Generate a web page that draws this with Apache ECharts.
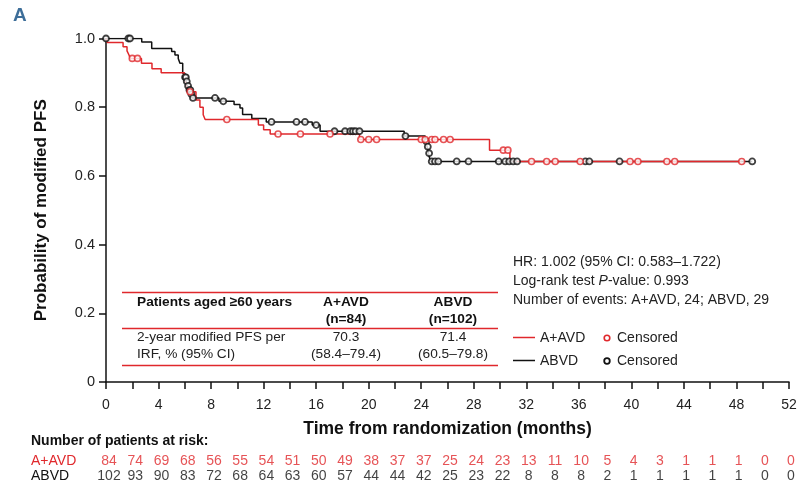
<!DOCTYPE html>
<html>
<head>
<meta charset="utf-8">
<script src="https://cdn.jsdelivr.net/npm/echarts@6/dist/echarts.min.js"></script>
<style>html,body{margin:0;padding:0;background:#fff;}#c{width:800px;height:485px;}</style>
</head>
<body>
<div id="c"></div>
<script>
// ---- Data ----
// A+AVD (red) KM steps: time (months) and survival after the event
const aavdTimes = [0, 0.1, 1.3, 1.6, 1.75, 1.85, 2.7, 3.5, 4.2, 5.97, 6.1, 6.2, 6.85, 7.15, 7.4, 7.55, 11.6, 12.0, 12.5, 19.3, 29.2, 30.75];
const aavdSurv  = [1.0, 0.988, 0.976, 0.964, 0.952, 0.942, 0.928, 0.912, 0.900, 0.884, 0.864, 0.845, 0.821, 0.800, 0.778, 0.764, 0.748, 0.734, 0.722, 0.706, 0.675, 0.642];
const aavdCensor = [2.0, 2.4, 6.4, 9.2, 13.1, 14.8, 17.06, 19.4, 20.0, 20.6, 24.0, 24.3, 24.8, 25.05, 25.7, 26.2, 30.25, 30.6, 32.4, 33.55, 34.2, 36.1, 39.9, 40.5, 42.7, 43.3, 48.4];

// ABVD (black) KM steps
const abvdTimes = [0, 2.72, 3.48, 5.0, 5.25, 5.5, 5.63, 5.84, 6.0, 6.1, 6.2, 6.3, 6.45, 6.55, 8.6, 9.75, 10.2, 10.4, 11.1, 12.2, 15.7, 16.3, 22.7, 24.3, 24.45, 24.55, 24.7];
const abvdSurv  = [1.0, 0.990, 0.971, 0.962, 0.952, 0.942, 0.928, 0.899, 0.887, 0.875, 0.862, 0.850, 0.838, 0.827, 0.817, 0.808, 0.798, 0.779, 0.767, 0.757, 0.748, 0.730, 0.716, 0.700, 0.685, 0.666, 0.642];
const abvdCensor = [0, 1.7, 1.83, 6.02, 6.08, 6.15, 6.25, 6.35, 6.42, 6.5, 6.62, 8.3, 8.93, 12.6, 14.5, 15.15, 16.0, 17.4, 18.2, 18.6, 18.8, 19.0, 19.3, 22.8, 24.4, 24.5, 24.6, 24.8, 25.05, 25.3, 26.7, 27.6, 29.9, 30.4, 30.7, 31.0, 31.3, 36.5, 36.8, 39.1, 49.2];

// Number at risk (every 2 months, 0..52)
const riskTimes = [0,2,4,6,8,10,12,14,16,18,20,22,24,26,28,30,32,34,36,38,40,42,44,46,48,50,52];
const riskAAVD = [84,74,69,68,56,55,54,51,50,49,38,37,37,25,24,23,13,11,10,5,4,3,1,1,1,0,0];
const riskABVD = [102,93,90,83,72,68,64,63,60,57,44,44,42,25,23,22,8,8,8,2,1,1,1,1,1,0,0];

// Inset table text
const tableHeader = ['Patients aged \u226560 years', 'A+AVD', '(n=84)', 'ABVD', '(n=102)'];
const tableRow1 = ['2-year modified PFS per', 'IRF, % (95% CI)'];
const tableAAVD = ['70.3', '(58.4\u201379.4)'];
const tableABVD = ['71.4', '(60.5\u201379.8)'];

// ---- Helpers ----
function stepLine(times, surv, censor) {
  const pts = times.map((t, i) => [t, surv[i]]);
  const last = Math.max(times[times.length - 1], Math.max.apply(null, censor));
  pts.push([last, surv[surv.length - 1]]);
  return pts;
}
function survAt(times, surv, t) {
  let v = surv[0];
  for (let i = 0; i < times.length; i++) { if (times[i] <= t) v = surv[i]; }
  return v;
}
function censorPts(times, surv, censor) {
  return censor.map(t => [t, survAt(times, surv, t)]);
}

const RED = '#e0282c';
const BLK = '#111111';
const fontS = '"Liberation Sans", Arial, Helvetica, sans-serif';

const chart = echarts.init(document.getElementById('c'), null, {renderer: 'canvas'});

const option = {
  backgroundColor: '#fff',
  animation: false,
  grid: [
    {left: 106, right: 11, top: 38.5, bottom: 103, containLabel: false},
    {left: 109, right: 9, top: 454, height: 30}
  ],
  xAxis: [
    {
      type: 'value', gridIndex: 0, min: 0, max: 52, interval: 2,
      axisLine: {lineStyle: {color: BLK, width: 1.5}},
      axisTick: {show: true, length: 7, lineStyle: {color: BLK, width: 1.5}},
      axisLabel: {formatter: v => (v % 4 === 0 ? String(v) : ''), color: '#222', fontSize: 14, fontFamily: fontS, margin: 16},
      splitLine: {show: false},
      name: 'Time from randomization (months)', nameLocation: 'middle', nameGap: 38,
      nameTextStyle: {fontSize: 17.5, fontWeight: 'bold', color: '#111', fontFamily: fontS}
    },
    {type: 'value', gridIndex: 1, min: 0, max: 52, show: false}
  ],
  yAxis: [
    {
      type: 'value', gridIndex: 0, min: 0, max: 1, interval: 0.2,
      axisLine: {show: true, lineStyle: {color: BLK, width: 1.5}},
      axisTick: {show: true, length: 7, lineStyle: {color: BLK, width: 1.5}},
      axisLabel: {formatter: v => (v === 0 ? '0' : v.toFixed(1)), color: '#222', fontSize: 14.5, fontFamily: fontS, margin: 11},
      splitLine: {show: false},
      name: 'Probability of modified PFS', nameLocation: 'middle', nameGap: 56,
      nameTextStyle: {fontSize: 17, fontWeight: 'bold', color: '#111', fontFamily: fontS}
    },
    {type: 'category', gridIndex: 1, data: ['A+AVD', 'ABVD'], inverse: true, show: false}
  ],
  series: [
    {
      name: 'A+AVD', type: 'line', step: 'end', xAxisIndex: 0, yAxisIndex: 0,
      data: stepLine(aavdTimes, aavdSurv, aavdCensor), showSymbol: false,
      lineStyle: {color: RED, width: 1.5}, z: 3
    },
    {
      name: 'ABVD', type: 'line', step: 'end', xAxisIndex: 0, yAxisIndex: 0,
      data: stepLine(abvdTimes, abvdSurv, abvdCensor), showSymbol: false,
      lineStyle: {color: BLK, width: 1.5}, z: 2
    },
    {
      name: 'A+AVD censored', type: 'scatter', xAxisIndex: 0, yAxisIndex: 0,
      data: censorPts(aavdTimes, aavdSurv, aavdCensor), symbol: 'circle', symbolSize: 6,
      itemStyle: {color: '#fff', borderColor: RED, borderWidth: 1.6}, z: 5
    },
    {
      name: 'ABVD censored', type: 'scatter', xAxisIndex: 0, yAxisIndex: 0,
      data: censorPts(abvdTimes, abvdSurv, abvdCensor), symbol: 'circle', symbolSize: 6,
      itemStyle: {color: '#fff', borderColor: BLK, borderWidth: 1.8}, z: 4
    },
    {
      name: 'risk A+AVD', type: 'scatter', xAxisIndex: 1, yAxisIndex: 1, symbolSize: 0,
      data: riskTimes.map((t, i) => [t, 'A+AVD', riskAAVD[i]]),
      label: {show: true, position: 'inside', formatter: p => String(p.value[2]), color: RED, fontSize: 14, fontFamily: fontS}
    },
    {
      name: 'risk ABVD', type: 'scatter', xAxisIndex: 1, yAxisIndex: 1, symbolSize: 0,
      data: riskTimes.map((t, i) => [t, 'ABVD', riskABVD[i]]),
      label: {show: true, position: 'inside', formatter: p => String(p.value[2]), color: '#111', fontSize: 14, fontFamily: fontS}
    }
  ],
  graphic: [
    {type: 'text', left: 13, top: 6, style: {text: 'A', font: 'bold 19px ' + fontS, fill: '#3d6e99'}},
    // risk table labels
    {type: 'text', x: 31, y: 441, style: {text: 'Number of patients at risk:', font: 'bold 14px ' + fontS, fill: '#111', textVerticalAlign: 'middle'}},
    {type: 'text', x: 31, y: 461.5, style: {text: 'A+AVD', font: '14px ' + fontS, fill: RED, textVerticalAlign: 'middle'}},
    {type: 'text', x: 31, y: 476.5, style: {text: 'ABVD', font: '14px ' + fontS, fill: '#111', textVerticalAlign: 'middle'}},
    // stats text
    {type: 'text', x: 513, y: 262, style: {text: 'HR: 1.002 (95% CI: 0.583\u20131.722)', font: '14px ' + fontS, fill: '#222', textVerticalAlign: 'middle'}},
    {type: 'text', x: 513, y: 281.5, style: {
      rich: {n: {font: '14px ' + fontS, fill: '#222'}, i: {font: 'italic 14px ' + fontS, fill: '#222'}},
      text: '{n|Log-rank test }{i|P}{n|-value: 0.993}', textVerticalAlign: 'middle'}},
    {type: 'text', x: 513, y: 300, style: {text: 'Number of events: A+AVD, 24; ABVD, 29', font: '14px ' + fontS, fill: '#222', textVerticalAlign: 'middle'}},
    // legend
    {type: 'line', shape: {x1: 513, y1: 337.5, x2: 535, y2: 337.5}, style: {stroke: RED, lineWidth: 1.5}},
    {type: 'text', x: 540, y: 338, style: {text: 'A+AVD', font: '14px ' + fontS, fill: '#222', textVerticalAlign: 'middle'}},
    {type: 'circle', shape: {cx: 607, cy: 338, r: 2.8}, style: {fill: '#fff', stroke: RED, lineWidth: 1.6}},
    {type: 'text', x: 617, y: 338, style: {text: 'Censored', font: '14px ' + fontS, fill: '#222', textVerticalAlign: 'middle'}},
    {type: 'line', shape: {x1: 513, y1: 360.5, x2: 535, y2: 360.5}, style: {stroke: BLK, lineWidth: 1.5}},
    {type: 'text', x: 540, y: 361, style: {text: 'ABVD', font: '14px ' + fontS, fill: '#222', textVerticalAlign: 'middle'}},
    {type: 'circle', shape: {cx: 607, cy: 361, r: 2.8}, style: {fill: '#fff', stroke: BLK, lineWidth: 1.8}},
    {type: 'text', x: 617, y: 361, style: {text: 'Censored', font: '14px ' + fontS, fill: '#222', textVerticalAlign: 'middle'}},
    // inset table
    {type: 'line', shape: {x1: 122, y1: 292.5, x2: 498, y2: 292.5}, style: {stroke: RED, lineWidth: 1.5}},
    {type: 'line', shape: {x1: 122, y1: 328.5, x2: 498, y2: 328.5}, style: {stroke: RED, lineWidth: 1.5}},
    {type: 'line', shape: {x1: 122, y1: 365.5, x2: 498, y2: 365.5}, style: {stroke: RED, lineWidth: 1.5}},
    {type: 'text', x: 137, y: 302, style: {text: tableHeader[0], font: 'bold 13.7px ' + fontS, fill: '#111', textVerticalAlign: 'middle'}},
    {type: 'text', x: 346, y: 302, style: {text: tableHeader[1], font: 'bold 13.7px ' + fontS, fill: '#111', textAlign: 'center', textVerticalAlign: 'middle'}},
    {type: 'text', x: 346, y: 319, style: {text: tableHeader[2], font: 'bold 13.7px ' + fontS, fill: '#111', textAlign: 'center', textVerticalAlign: 'middle'}},
    {type: 'text', x: 453, y: 302, style: {text: tableHeader[3], font: 'bold 13.7px ' + fontS, fill: '#111', textAlign: 'center', textVerticalAlign: 'middle'}},
    {type: 'text', x: 453, y: 319, style: {text: tableHeader[4], font: 'bold 13.7px ' + fontS, fill: '#111', textAlign: 'center', textVerticalAlign: 'middle'}},
    {type: 'text', x: 137, y: 337, style: {text: tableRow1[0], font: '13.7px ' + fontS, fill: '#222', textVerticalAlign: 'middle'}},
    {type: 'text', x: 137, y: 354, style: {text: tableRow1[1], font: '13.7px ' + fontS, fill: '#222', textVerticalAlign: 'middle'}},
    {type: 'text', x: 346, y: 337, style: {text: tableAAVD[0], font: '13.7px ' + fontS, fill: '#222', textAlign: 'center', textVerticalAlign: 'middle'}},
    {type: 'text', x: 346, y: 354, style: {text: tableAAVD[1], font: '13.7px ' + fontS, fill: '#222', textAlign: 'center', textVerticalAlign: 'middle'}},
    {type: 'text', x: 453, y: 337, style: {text: tableABVD[0], font: '13.7px ' + fontS, fill: '#222', textAlign: 'center', textVerticalAlign: 'middle'}},
    {type: 'text', x: 453, y: 354, style: {text: tableABVD[1], font: '13.7px ' + fontS, fill: '#222', textAlign: 'center', textVerticalAlign: 'middle'}}
  ]
};
chart.setOption(option);
</script>
</body>
</html>
